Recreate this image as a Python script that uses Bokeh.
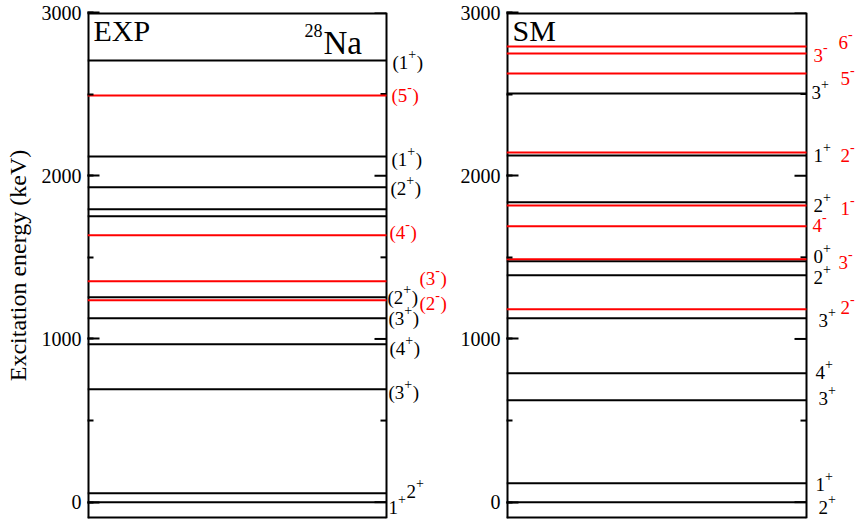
from bokeh.plotting import figure
from bokeh.models import Label, SingleIntervalTicker, LinearAxis, ColumnDataSource
from bokeh.layouts import row
from bokeh.embed import file_html
from bokeh.resources import INLINE

# ---------------- data ----------------
exp_energy = [0, 55, 692, 967, 1127, 1237, 1255, 1353, 1635, 1751, 1794, 1929, 2118, 2492, 2706]
exp_spin = ["1", "2", "3", "4", "3", "2", "2", "3", "4", "", "", "2", "1", "5", "1"]
exp_parity = ["+", "+", "+", "+", "+", "-", "+", "-", "-", "", "", "+", "+", "-", "+"]
exp_tentative = [False, False, True, True, True, True, True, True, True, False, False, True, True, True, True]

sm_energy = [0, 116, 624, 790, 1127, 1182, 1390, 1476, 1488, 1690, 1818, 1837, 2124, 2143, 2504, 2627, 2749, 2792]
sm_spin = ["2", "1", "3", "4", "3", "2", "2", "0", "3", "4", "1", "2", "1", "2", "3", "5", "3", "6"]
sm_parity = ["+", "+", "+", "+", "+", "-", "+", "+", "-", "-", "-", "+", "+", "-", "+", "-", "-", "-"]

major_ticks = [0, 1000, 2000, 3000]
minor_ticks = [500, 1500, 2500]
y_range = (-100, 3000)

# ---------------- label layout (screen px offsets) ----------------
exp_label_dx = [2, 20, 2, 3, 2, 33, 1, 33, 3, 0, 0, 4, 5, 5, 6]
exp_label_dy = [-5, 2, -3, -4, 0, -3, 0, 3, 3, 0, 0, -1, -3, 0, -2]
sm_label_dx = [12, 9, 12, 9, 12, 34, 7, 7, 32, 6, 34, 7, 7, 34, 5, 34, 7, 32]
sm_label_dy = [-5, -1, 2, 1, -2, 2, -2, 5, -3, 1, -3, -3, 0, -3, 1, -5, -2, 4]

FONT = "Liberation Serif"
RED = "#ff0000"
BLACK = "#000000"
CW = {"(": 0.333, ")": 0.333, "+": 0.564, "-": 0.333}


def text_width(s, size):
    return sum(CW.get(c, 0.5) for c in s) * size


def make_fig(box_px, extra_px, min_left, show_label):
    # frame covers the panel box plus the label strip on its right
    p = figure(x_range=(0, (box_px + extra_px) / box_px), y_range=y_range,
               frame_width=box_px + extra_px, frame_height=506,
               output_backend="svg", toolbar_location=None,
               x_axis_location=None, y_axis_location=None,
               min_border_left=min_left, min_border_right=0,
               min_border_top=12, min_border_bottom=7)
    p.grid.visible = False
    p.outline_line_color = None
    p.background_fill_color = "white"
    p.border_fill_color = "white"
    ax = LinearAxis(ticker=SingleIntervalTicker(interval=1000, num_minor_ticks=2))
    ax.major_tick_in = 12
    ax.major_tick_out = 0
    ax.minor_tick_in = 6
    ax.minor_tick_out = 0
    ax.major_tick_line_width = 2
    ax.minor_tick_line_width = 2
    ax.axis_line_color = None
    ax.major_label_text_font = FONT
    ax.major_label_text_font_size = "20px"
    ax.major_label_text_color = "black"
    ax.major_label_standoff = 6
    if show_label:
        ax.axis_label = "Excitation energy (keV)"
        ax.axis_label_text_font = FONT
        ax.axis_label_text_font_size = "24px"
        ax.axis_label_text_font_style = "normal"
        ax.axis_label_text_color = "black"
        ax.axis_label_standoff = 8
    p.add_layout(ax, "left")

    # panel box (left/top/bottom sit on the frame edge, so draw them double width)
    y0, y1 = y_range
    p.segment(x0=[0, 0, 0], y0=[y0, y1, y0], x1=[0, 1, 1], y1=[y1, y1, y0],
              line_color="black", line_width=4)
    p.segment(x0=[1], y0=[y0], x1=[1], y1=[y1], line_color="black", line_width=2)
    # inward ticks on the right edge of the box
    p.segment(x0=[1 - 12 / box_px] * len(major_ticks), y0=major_ticks,
              x1=[1] * len(major_ticks), y1=major_ticks, line_color="black", line_width=2)
    p.segment(x0=[1 - 6 / box_px] * len(minor_ticks), y0=minor_ticks,
              x1=[1] * len(minor_ticks), y1=minor_ticks, line_color="black", line_width=2)
    return p


def draw_levels(p, energy, parity):
    colors = [RED if q == "-" else BLACK for q in parity]
    src = ColumnDataSource(dict(y=energy, c=colors, x0=[0] * len(energy), x1=[1] * len(energy)))
    p.segment(x0="x0", y0="y", x1="x1", y1="y", line_color="c", line_width=2, source=src)


def add_level_label(p, y, spin, parity, paren, dx, dy, size=19, supsize=14):
    if not spin:
        return
    color = RED if parity == "-" else BLACK
    base = ("(" if paren else "") + spin
    common = dict(x=1, y=y, text_font=FONT, text_color=color, text_baseline="middle", text_align="left")
    p.add_layout(Label(text=base, x_offset=dx, y_offset=dy, text_font_size=f"{size}px", **common))
    wb = text_width(base, size)
    p.add_layout(Label(text=parity, x_offset=dx + wb, y_offset=dy + 8, text_font_size=f"{supsize}px", **common))
    if paren:
        ws = text_width(parity, supsize)
        p.add_layout(Label(text=")", x_offset=dx + wb + ws + 0.5, y_offset=dy,
                           text_font_size=f"{size}px", **common))


# ---------------- EXP panel ----------------
p1 = make_fig(299, 70, 87, True)
draw_levels(p1, exp_energy, exp_parity)
for i in range(len(exp_energy)):
    add_level_label(p1, exp_energy[i], exp_spin[i], exp_parity[i], exp_tentative[i],
                    exp_label_dx[i], exp_label_dy[i])
p1.add_layout(Label(x=0, y=y_range[1], x_offset=6, y_offset=-1, text="EXP", text_font=FONT,
                    text_font_size="30px", text_color="black", text_baseline="top", text_align="left"))
p1.add_layout(Label(x=1, y=y_range[1], x_offset=-63, y_offset=-30, text="Na", text_font=FONT,
                    text_font_size="33px", text_color="black", text_baseline="alphabetic", text_align="left"))
p1.add_layout(Label(x=1, y=y_range[1], x_offset=-82, y_offset=-18, text="28", text_font=FONT,
                    text_font_size="18px", text_color="black", text_baseline="alphabetic", text_align="left"))

# ---------------- SM panel ----------------
p2 = make_fig(300, 50, 50, False)
draw_levels(p2, sm_energy, sm_parity)
for i in range(len(sm_energy)):
    add_level_label(p2, sm_energy[i], sm_spin[i], sm_parity[i], False,
                    sm_label_dx[i], sm_label_dy[i])
p2.add_layout(Label(x=0, y=y_range[1], x_offset=6, y_offset=-1, text="SM", text_font=FONT,
                    text_font_size="30px", text_color="black", text_baseline="top", text_align="left"))

layout = row(p1, p2)
open("out.html", "w").write(file_html(layout, INLINE))
